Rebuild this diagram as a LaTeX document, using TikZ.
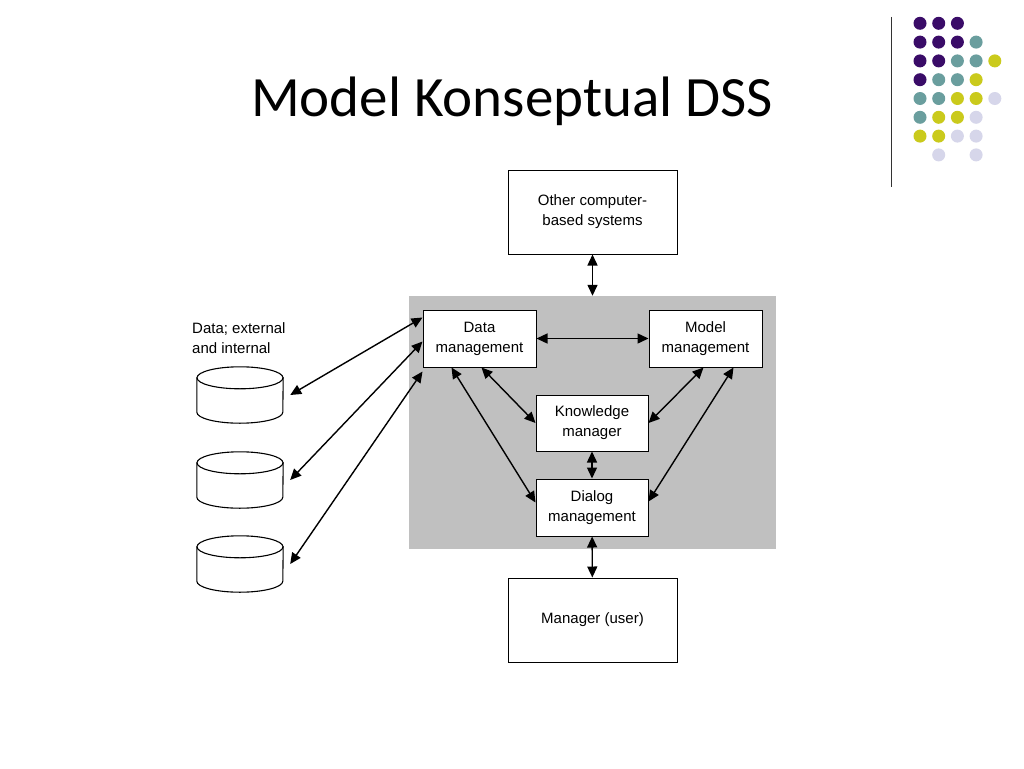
\documentclass[tikz,border=0pt]{standalone}
\usepackage{fontspec}
\setmainfont{Liberation Sans}
\newfontfamily\titlefont{Carlito}
\usetikzlibrary{arrows.meta}
\definecolor{dpurple}{RGB}{58,12,104}
\definecolor{dteal}{RGB}{106,158,158}
\definecolor{dyellow}{RGB}{202,202,28}
\definecolor{dlav}{RGB}{214,214,234}
\definecolor{panel}{RGB}{192,192,192}
\tikzset{
  box/.style={draw=black, line width=1pt, fill=white, align=center, inner sep=0pt,
    font=\fontsize{15}{20}\selectfont},
  arr/.style={{Triangle[length=11pt,width=10pt]}-{Triangle[length=11pt,width=10pt]}, line width=1.4pt},
  cylbox/.style={draw=none, minimum width=86pt, minimum height=56pt, inner sep=0pt},
  cylline/.style={line width=1.1pt, fill=white},
  dot/.style={circle, inner sep=0pt, minimum size=13pt, draw=none},
}
\begin{document}
\begin{tikzpicture}[x=1pt,y=-1pt]
\useasboundingbox[fill=white] (0,0) rectangle (1024,768);
% title
\node[anchor=base, font=\titlefont\fontsize{57}{64}\selectfont] (title) at (512,116) {Model Konseptual DSS};
% vertical rule
\coordinate (ruletop) at (891,17);
\coordinate (rulebot) at (891,187);
\draw[line width=1pt, black!80] (ruletop) -- (rulebot);
% dot grid
\foreach \r/\row in {
  0/{dpurple,dpurple,dpurple,none,none},
  1/{dpurple,dpurple,dpurple,dteal,none},
  2/{dpurple,dpurple,dteal,dteal,dyellow},
  3/{dpurple,dteal,dteal,dyellow,none},
  4/{dteal,dteal,dyellow,dyellow,dlav},
  5/{dteal,dyellow,dyellow,dlav,none},
  6/{dyellow,dyellow,dlav,dlav,none},
  7/{none,dlav,none,dlav,none}}{
  \foreach \c [count=\i from 0] in \row {
    \node[dot, fill=\c] (d\r\i) at (920+18.7*\i, 23.3+18.8*\r) {};
  }
}
% gray panel
\node[fill=panel, draw=none, minimum width=367pt, minimum height=253pt, inner sep=0pt] (core) at (592.5,422.5) {};
% boxes
\node[box, minimum width=169pt, minimum height=84pt] (other) at (592.5,212) {Other computer-\\based systems};
\node[box, minimum width=113pt, minimum height=57pt] (data) at (479.5,338.5) {Data\\management};
\node[box, minimum width=113pt, minimum height=57pt] (model) at (705.5,338.5) {Model\\management};
\node[box, minimum width=112pt, minimum height=56pt] (know) at (592,423) {Knowledge\\manager};
\node[box, minimum width=112pt, minimum height=57pt] (dialog) at (592,507.5) {Dialog\\management};
\node[box, minimum width=169pt, minimum height=84pt] (manager) at (592.5,620) {Manager (user)};
% data label
\node[anchor=west, align=left, inner sep=0pt, font=\fontsize{15}{20}\selectfont] (datalabel) at (192,338) {Data; external\\and internal};
% cylinders
\foreach \n/\cy in {cyl1/395, cyl2/480, cyl3/564}{
  \node[cylbox] (\n) at (240,\cy) {};
  \draw[cylline] ([yshift=-11pt]\n.north west) -- ([yshift=11pt]\n.south west)
     arc[start angle=180, end angle=360, x radius=43pt, y radius=11pt]
     -- ([yshift=-11pt]\n.north east) -- cycle;
  \draw[cylline] ([yshift=-11pt]\n.north) ellipse[x radius=43pt, y radius=11pt];
}
% connectors
\draw[arr] ([xshift=7pt]cyl1.east) -- ([yshift=-8pt]data.north west);
\draw[arr] ([xshift=7pt]cyl2.east) -- ([yshift=-3pt]data.west);
\draw[arr] ([xshift=7pt]cyl3.east) -- ([yshift=-4pt]data.south west);
\draw[arr] (data) -- (model);
\draw[arr] ([xshift=2pt]data.south) -- (know.west);
\draw[arr] ([xshift=-28pt]data.south) -- ([yshift=5pt]dialog.west);
\draw[arr] ([xshift=-2pt]model.south) -- (know.east);
\draw[arr] ([xshift=28pt]model.south) -- ([yshift=6pt]dialog.east);
\draw[arr] (know) -- (dialog);
\draw[arr] (other) -- (other.south |- core.north);
\draw[arr] (dialog) -- (manager);
\end{tikzpicture}
\end{document}
